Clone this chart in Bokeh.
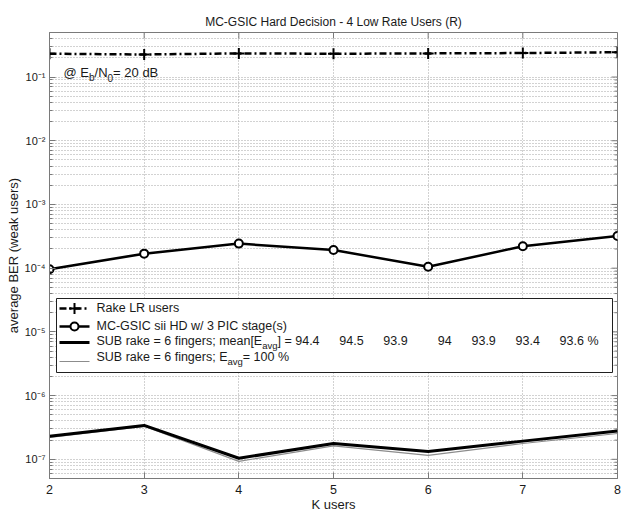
from bokeh.plotting import figure
from bokeh.models import Range1d, LinearScale, FixedTicker
from bokeh.core.properties import value
from bokeh.embed import file_html
from bokeh.resources import INLINE

# ---------------- data ----------------
k_users = [2, 3, 4, 5, 6, 7, 8]
rake_lr = [0.232, 0.226, 0.235, 0.232, 0.235, 0.238, 0.245]
mc_gsic = [0.965e-4, 1.69e-4, 2.43e-4, 1.93e-4, 1.05e-4, 2.21e-4, 3.2e-4]
sub_mean = [2.3e-7, 3.4e-7, 1.04e-7, 1.77e-7, 1.33e-7, 1.93e-7, 2.79e-7]
sub_full = [2.2e-7, 3.3e-7, 0.93e-7, 1.63e-7, 1.15e-7, 1.77e-7, 2.54e-7]
e_avg_mean = ["94.4", "94.5", "93.9", "94", "93.9", "93.4", "93.6"]
e_avg_full = "100"
x_ticks = [2, 3, 4, 5, 6, 7, 8]
y_exponents = [-7, -6, -5, -4, -3, -2, -1]
y_limits = (5e-8, 0.5)
ebn0_db = 20
title_text = "MC-GSIC Hard Decision - 4 Low Rate Users (R)"
x_label = "K users"
y_label = "average BER (weak users)"
legend_rake = "Rake LR users"
legend_mc = "MC-GSIC sii HD w/ 3 PIC stage(s)"

# ---------------- helpers ----------------
FONT = "Liberation Sans"
TXT = "#1a1a1a"
W = {' ': 278, '\u00a0': 278, '%': 889, '(': 333, ')': 333, '-': 333, '.': 278, '/': 278,
     ';': 278, '=': 584, '@': 1015, '[': 278, ']': 278,
     'A': 667, 'B': 667, 'C': 722, 'D': 722, 'E': 667, 'G': 778, 'H': 722, 'I': 278,
     'K': 667, 'L': 556, 'M': 833, 'N': 722, 'P': 667, 'R': 722, 'S': 667, 'U': 722,
     'c': 500, 'f': 278, 'i': 222, 'k': 500, 'l': 222, 'm': 833, 'r': 333, 's': 500,
     't': 278, 'v': 500, 'w': 722}


def tw(s, size):
    return sum(W.get(c, 556) for c in s) * size / 1000.0


FW, FH = 568, 446
p = figure(frame_width=FW, frame_height=FH, x_range=Range1d(2, 8),
           y_range=Range1d(*y_limits), y_axis_type="log", title=title_text,
           output_backend="svg", toolbar_location=None,
           min_border_left=49, min_border_right=17, min_border_top=32, min_border_bottom=35,
           background_fill_color="white", border_fill_color="white")
p.title.align = "center"
p.title.text_font = FONT
p.title.text_font_size = "12px"
p.title.text_font_style = "normal"
p.title.text_color = TXT
p.title.standoff = 7

p.extra_x_ranges = {"px": Range1d(0, FW)}
p.extra_y_ranges = {"px": Range1d(0, FH)}
p.extra_x_scales = {"px": LinearScale()}
p.extra_y_scales = {"px": LinearScale()}
AX = "#7a7a7a"
p.outline_line_color = AX

sup = str.maketrans("-0123456789", "\u207b\u2070\u00b9\u00b2\u00b3\u2074\u2075\u2076\u2077\u2078\u2079")
y_major = [10.0 ** e for e in y_exponents]
y_minor = [m * 10.0 ** e for e in range(-8, 0) for m in range(2, 10)
           if y_limits[0] <= m * 10.0 ** e <= y_limits[1]]
yt = FixedTicker(ticks=y_major, minor_ticks=y_minor)
xt = FixedTicker(ticks=x_ticks)

ya = p.yaxis[0]
ya.ticker = yt
ya.major_label_overrides = {v: "10" + str(e).translate(sup) for v, e in zip(y_major, y_exponents)}
xa = p.xaxis[0]
xa.ticker = xt
for ax in (ya, xa):
    ax.axis_line_color = AX
    ax.major_tick_line_color = AX
    ax.minor_tick_line_color = AX
    ax.major_tick_in = 6
    ax.major_tick_out = 0
    ax.minor_tick_in = 3
    ax.minor_tick_out = 0
    ax.major_label_text_font = FONT
    ax.major_label_text_color = TXT
    ax.axis_label_text_font = FONT
    ax.axis_label_text_font_style = "normal"
    ax.axis_label_text_color = TXT
    ax.axis_label_text_font_size = "13px"
ya.major_label_text_font_size = "11px"
ya.major_label_standoff = 4
xa.major_label_text_font_size = "12.5px"
xa.major_label_standoff = 6
ya.axis_label = y_label
ya.axis_label_standoff = 1
xa.axis_label = x_label
xa.axis_label_standoff = 0

# ticks on the right and top edges (inside), from the same tick lists
p.segment(x0=[FW] * len(y_major), x1=[FW - 6] * len(y_major), y0=y_major, y1=y_major,
          x_range_name="px", line_color=AX, line_width=1)
p.segment(x0=[FW] * len(y_minor), x1=[FW - 3] * len(y_minor), y0=y_minor, y1=y_minor,
          x_range_name="px", line_color=AX, line_width=1)
p.segment(x0=x_ticks, x1=x_ticks, y0=[FH] * len(x_ticks), y1=[FH - 6] * len(x_ticks),
          y_range_name="px", line_color=AX, line_width=1)

GRID = "#a4a4a4"
p.xgrid[0].ticker = xt
p.xgrid.grid_line_color = GRID
p.xgrid.grid_line_dash = "1 2"
p.ygrid[0].ticker = yt
p.ygrid.grid_line_color = GRID
p.ygrid.grid_line_dash = "1 2"
p.ygrid.minor_grid_line_color = GRID
p.ygrid.minor_grid_line_dash = "1 2"

# ---------------- data series ----------------
p.line(k_users, rake_lr, line_color="black", line_width=2.5, line_dash="7 3 2 3")
p.scatter(k_users, rake_lr, marker="cross", size=11, line_color="black", line_width=2)
p.line(k_users, mc_gsic, line_color="black", line_width=2.5)
p.scatter(k_users, mc_gsic, marker="circle", size=8, line_color="black", line_width=2,
          fill_color="white")
p.line(k_users, sub_full, line_color="#8c8c8c", line_width=1.2)
p.line(k_users, sub_mean, line_color="black", line_width=3)


# ---------------- texts ----------------
def txt(x, y, s, size, align="left"):
    p.text(x=[x], y=[y], text=[s], x_range_name="px", y_range_name="px",
           text_font=value(FONT), text_font_size=f"{size}px", text_color=TXT,
           text_align=align, text_baseline="middle")


def rich(x, y, parts, size=12.5, sub_size=9.5, drop=5):
    for s, is_sub in parts:
        fs = sub_size if is_sub else size
        txt(x, y - drop if is_sub else y, s, fs)
        x += tw(s, fs)
    return x


rich(14, 406, [("@ E", False), ("b", True), ("/N", False), ("0", True),
               (f" = {ebn0_db} dB", False)], size=13, sub_size=10)

# legend box
p.quad(left=[7], right=[563], bottom=[106], top=[180], x_range_name="px", y_range_name="px",
       fill_color="white", line_color="#202020", line_width=1)
LX0, LX1, LXM, TX = 10, 40, 25, 47
rows = [170, 152, 136, 117]
p.line([LX0, LX1], [rows[0]] * 2, x_range_name="px", y_range_name="px",
       line_color="black", line_width=2.5, line_dash="7 3 2 3")
p.scatter([LXM], [rows[0]], x_range_name="px", y_range_name="px", marker="cross",
          size=11, line_color="black", line_width=2)
p.line([LX0, LX1], [rows[1]] * 2, x_range_name="px", y_range_name="px",
       line_color="black", line_width=2.5)
p.scatter([LXM], [rows[1]], x_range_name="px", y_range_name="px", marker="circle",
          size=8, line_color="black", line_width=2, fill_color="white")
p.line([LX0, LX1], [rows[2]] * 2, x_range_name="px", y_range_name="px",
       line_color="black", line_width=3)
p.line([LX0, LX1], [rows[3]] * 2, x_range_name="px", y_range_name="px",
       line_color="#8c8c8c", line_width=1.2)

LS = 12.5
txt(TX, rows[0] + 1, legend_rake, LS)
txt(TX, rows[1] + 1, legend_mc, LS)
x_num = rich(TX, rows[2] + 2, [("SUB rake = 6 fingers; mean[E", False), ("avg", True),
                               ("] = ", False)], size=LS)
# numbers as right-aligned columns (like num2str output)
pct = " %"
first_right = x_num + tw(e_avg_mean[0], LS)
last_right = 549 - tw(pct, LS)
step = (last_right - first_right) / (len(e_avg_mean) - 1)
for i, s in enumerate(e_avg_mean):
    right = first_right + i * step
    label = s + (pct if i == len(e_avg_mean) - 1 else "")
    txt(right - tw(s, LS), rows[2] + 2, label, LS)
rich(TX, rows[3] + 5, [("SUB rake = 6 fingers; E", False), ("avg", True),
                       (f" = {e_avg_full} %", False)], size=LS)

open("out.html", "w").write(file_html(p, INLINE))
